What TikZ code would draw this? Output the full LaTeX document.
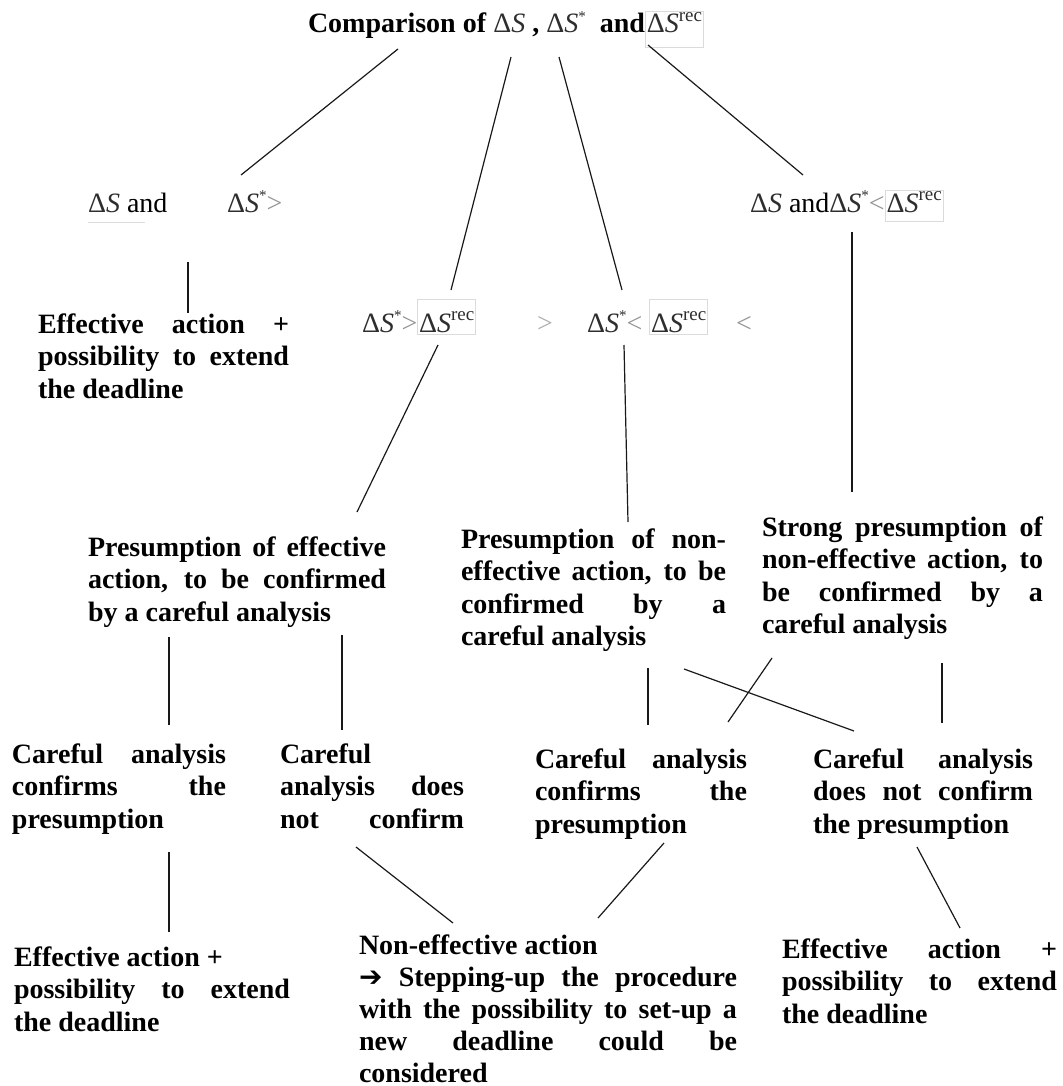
\documentclass[tikz,border=0pt]{standalone}
\usepackage{fontspec}
\setmainfont{Liberation Serif}
\newfontfamily\arrowfont{DejaVu Sans}

\colorlet{mathink}{black!82}
\colorlet{relink}{black!42}
\colorlet{boxline}{black!14}

% Delta S with upright Delta and italic S, in regular weight
\newcommand\dS{\textcolor{mathink}{\mdseries\upshape Δ\itshape S}}
\newcommand\sstar{\textcolor{mathink}{\mdseries\upshape\raisebox{0.42em}{\fontsize{15}{15}\selectfont *}}}
\newcommand\srec{\textcolor{mathink}{\mdseries\upshape\raisebox{0.40em}{\fontsize{19}{19}\selectfont rec}}}
% faint frame: #1 height above baseline, #2 depth below, #3 content
\newcommand\recbox[3]{{\setlength\fboxsep{1pt}\setlength\fboxrule{0.8pt}%
  \fcolorbox{boxline}{white}{\rule[-#2pt]{0pt}{#1pt}#3}}}
\newcommand\rel[1]{\textcolor{relink}{\mdseries\upshape #1}}
% one justified line inside a text block
\newcommand\jl[1]{\makebox[\linewidth][s]{#1}}
\newcommand\blocktext[3][32.5]{\parbox[t]{#2}{\fontsize{28}{#1}\selectfont\bfseries #3}}

\begin{document}
\begin{tikzpicture}[x=1pt,y=-1pt,
  conn/.style={line width=1.2pt, draw=black!90},
  blk/.style={anchor=base west, inner sep=0pt, outer sep=0pt},
  frm/.style={anchor=base west, inner sep=0pt, outer sep=0pt,
              font=\fontsize{28}{32.5}\selectfont}]
\useasboundingbox (0,0) rectangle (1062,1086);

% ---------- title ----------
\node[frm] (title) at (308,33)
  {\textbf{Comparison of} \dS\ \textbf{,}\ \dS\sstar\ \ \textbf{and}\recbox{31}{13}{\dS\srec}};

% ---------- first comparison level ----------
\node[frm] (cmpA) at (88,212) {\dS\ and};
\node[frm] (cmpB) at (227,212) {\dS\sstar\rel{>}};
\node[frm] (cmpC) at (750,212) {\dS\ and\dS\sstar\rel{<}\recbox{27}{8}{\dS\srec}};
\draw[boxline, line width=0.8pt] ([shift={(0,10)}]cmpA.base west) -- ([shift={(57,10)}]cmpA.base west);

\node[frm] (cmpD) at (362,332) {\dS\sstar\rel{>}\recbox{32}{1}{\dS\srec}};
\node[frm] (cmpGap) at (537,332) {\textcolor{black!32}{>}};
\node[frm] (cmpE) at (587,332) {\dS\sstar\rel{<}\ \recbox{32}{1}{\dS\srec}\quad\rel{<}};

% ---------- outcome of the first branch ----------
\node[blk] (effTop) at (38,333) {\blocktext{251pt}{%
  \jl{Effective action +}\\
  \jl{possibility to extend}\\
  the deadline}};

% ---------- presumptions ----------
\node[blk] (preEff) at (88,556) {\blocktext{298pt}{%
  \jl{Presumption of effective}\\
  \jl{action, to be confirmed}\\
  by a careful analysis}};
\node[blk] (preNon) at (461,548) {\blocktext{265pt}{%
  \jl{Presumption of non-}\\
  \jl{effective action, to be}\\
  \jl{confirmed by a}\\
  careful analysis}};
\node[blk] (preStrong) at (762,536) {\blocktext{281pt}{%
  \jl{Strong presumption of}\\
  \jl{non-effective action, to}\\
  \jl{be confirmed by a}\\
  careful analysis}};

% ---------- careful analysis results ----------
\node[blk] (carA) at (12,763) {\blocktext{214pt}{%
  \jl{Careful analysis}\\
  \jl{confirms the}\\
  presumption}};
\node[blk] (carB) at (280,763) {\blocktext{184pt}{%
  Careful\\
  \jl{analysis does}\\
  \jl{not confirm}}};
\node[blk] (carC) at (535,768) {\blocktext{212pt}{%
  \jl{Careful analysis}\\
  \jl{confirms the}\\
  presumption}};
\node[blk] (carD) at (813,768) {\blocktext{220pt}{%
  \jl{Careful analysis}\\
  \jl{does not confirm}\\
  the presumption}};

% ---------- final outcomes ----------
\node[blk] (endA) at (14,966) {\blocktext{276pt}{%
  Effective action +\\
  \jl{possibility to extend}\\
  the deadline}};
\node[blk] (endB) at (359,954) {\blocktext[32]{378pt}{%
  Non-effective action\\
  \jl{{\arrowfont\mdseries ➔} Stepping-up the procedure}\\
  \jl{with the possibility to set-up a}\\
  \jl{new deadline could be}\\
  considered}};
\node[blk] (endC) at (782,958) {\blocktext{275pt}{%
  \jl{Effective action +}\\
  \jl{possibility to extend}\\
  the deadline}};

% ---------- connector end points ----------
\coordinate (title-1) at (398,49);
\coordinate (title-2) at (511,57);
\coordinate (title-3) at (559,57);
\coordinate (title-4) at (648,45);
\coordinate (cmpB-in) at (241,175);
\coordinate (cmpD-in) at (451,290);
\coordinate (cmpE-in) at (622,290);
\coordinate (cmpC-in) at (803,175);

\coordinate (cmpA-out) at (188,262);
\coordinate (effTop-in) at (188,313);
\coordinate (cmpD-out) at (438,345);
\coordinate (preEff-in) at (357,512);
\coordinate (cmpE-out) at (624,345);
\coordinate (preNon-in) at (628,522);
\coordinate (cmpC-out) at (852,232);
\coordinate (preStrong-in) at (852,492);

\coordinate (preEff-outA) at (169,637);
\coordinate (carA-in) at (169,725);
\coordinate (preEff-outB) at (342,635);
\coordinate (carB-in) at (342,730);
\coordinate (preNon-outA) at (648,668);
\coordinate (carC-inA) at (648,725);
\coordinate (preNon-outB) at (684,669);
\coordinate (carD-inA) at (854,731);
\coordinate (preStrong-outA) at (772,658);
\coordinate (carC-inB) at (728,722);
\coordinate (preStrong-outB) at (942,663);
\coordinate (carD-inB) at (942,723);

\coordinate (carA-out) at (169,852);
\coordinate (endA-in) at (169,932);
\coordinate (carB-out) at (356,847);
\coordinate (endB-inA) at (453,923);
\coordinate (carC-out) at (664,843);
\coordinate (endB-inB) at (598,918);
\coordinate (carD-out) at (917,847);
\coordinate (endC-in) at (960,928);

% ---------- connectors ----------
\draw[conn] (title-1) -- (cmpB-in);
\draw[conn] (title-2) -- (cmpD-in);
\draw[conn] (title-3) -- (cmpE-in);
\draw[conn] (title-4) -- (cmpC-in);

\draw[conn] (cmpA-out) -- (effTop-in);
\draw[conn] (cmpD-out) -- (preEff-in);
\draw[conn] (cmpE-out) -- (preNon-in);
\draw[conn] (cmpC-out) -- (preStrong-in);

\draw[conn] (preEff-outA) -- (carA-in);
\draw[conn] (preEff-outB) -- (carB-in);
\draw[conn] (preNon-outA) -- (carC-inA);
\draw[conn] (preNon-outB) -- (carD-inA);
\draw[conn] (preStrong-outA) -- (carC-inB);
\draw[conn] (preStrong-outB) -- (carD-inB);

\draw[conn] (carA-out) -- (endA-in);
\draw[conn] (carB-out) -- (endB-inA);
\draw[conn] (carC-out) -- (endB-inB);
\draw[conn] (carD-out) -- (endC-in);
\end{tikzpicture}
\end{document}
